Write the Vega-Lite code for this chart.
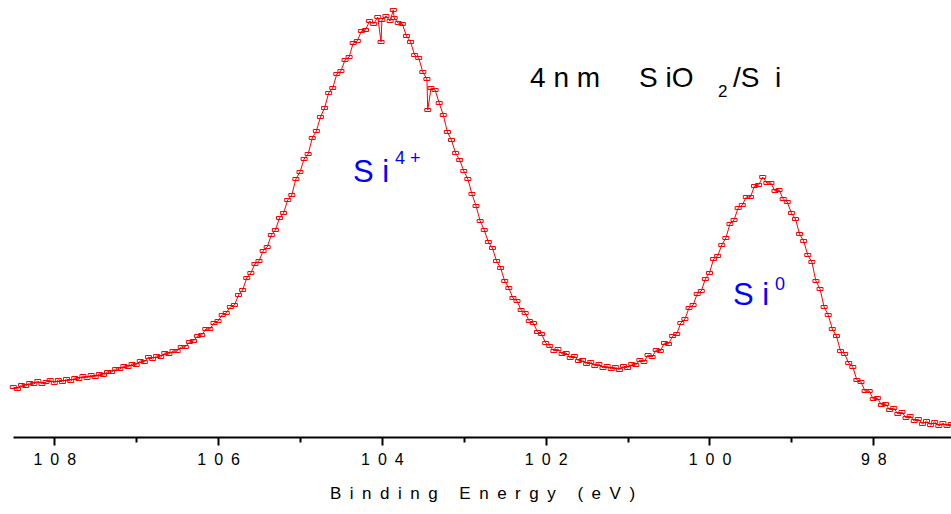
{
  "$schema": "https://vega.github.io/schema/vega-lite/v6.json",
  "width": 938,
  "height": 437,
  "autosize": {"type": "none"},
  "padding": {"left": 13, "top": 0, "right": 0, "bottom": 77},
  "background": "white",
  "config": {"view": {"stroke": null}, "font": "Liberation Sans"},
  "datasets": {
    "spectrum": [
      {"E":108.50,"h":50},{"E":108.45,"h":48},{"E":108.40,"h":52},{"E":108.35,"h":51},{"E":108.30,"h":54},{"E":108.25,"h":53},{"E":108.20,"h":56},{"E":108.15,"h":53},{"E":108.10,"h":55},{"E":108.05,"h":57},
      {"E":108.00,"h":54},{"E":107.95,"h":57},{"E":107.90,"h":55},{"E":107.85,"h":58},{"E":107.80,"h":56},{"E":107.75,"h":59},{"E":107.70,"h":58},{"E":107.65,"h":61},{"E":107.60,"h":59},{"E":107.55,"h":62},
      {"E":107.50,"h":60},{"E":107.45,"h":63},{"E":107.40,"h":62},{"E":107.35,"h":65},{"E":107.30,"h":65},{"E":107.25,"h":68},{"E":107.20,"h":68},{"E":107.15,"h":71},{"E":107.10,"h":70},{"E":107.05,"h":73},
      {"E":107.00,"h":72},{"E":106.95,"h":76},{"E":106.90,"h":75},{"E":106.85,"h":80},{"E":106.80,"h":78},{"E":106.75,"h":81},{"E":106.70,"h":80},{"E":106.65,"h":84},{"E":106.60,"h":83},{"E":106.55,"h":86},
      {"E":106.50,"h":86},{"E":106.45,"h":90},{"E":106.40,"h":90},{"E":106.35,"h":95},{"E":106.30,"h":96},{"E":106.25,"h":101},{"E":106.20,"h":102},{"E":106.15,"h":108},{"E":106.10,"h":108},{"E":106.05,"h":114},
      {"E":106.00,"h":116},{"E":105.95,"h":122},{"E":105.90,"h":124},{"E":105.85,"h":130},{"E":105.80,"h":132},{"E":105.75,"h":142},{"E":105.70,"h":147},{"E":105.65,"h":159},{"E":105.60,"h":164},{"E":105.55,"h":173},
      {"E":105.50,"h":176},{"E":105.45,"h":186},{"E":105.40,"h":190},{"E":105.35,"h":202},{"E":105.30,"h":207},{"E":105.25,"h":219},{"E":105.20,"h":224},{"E":105.15,"h":237},{"E":105.10,"h":242},{"E":105.05,"h":258},
      {"E":105.00,"h":265},{"E":104.95,"h":278},{"E":104.90,"h":283},{"E":104.85,"h":299},{"E":104.80,"h":306},{"E":104.75,"h":320},{"E":104.70,"h":329},{"E":104.65,"h":344},{"E":104.60,"h":349},{"E":104.55,"h":363},
      {"E":104.50,"h":366},{"E":104.45,"h":377},{"E":104.40,"h":380},{"E":104.35,"h":394},{"E":104.30,"h":396},{"E":104.25,"h":406},{"E":104.20,"h":407},{"E":104.15,"h":416},{"E":104.10,"h":413},{"E":104.05,"h":420},
      {"E":104.01,"h":395},{"E":104.00,"h":417},{"E":103.95,"h":421},{"E":103.90,"h":416},{"E":103.86,"h":427},{"E":103.85,"h":419},{"E":103.80,"h":414},{"E":103.75,"h":413},{"E":103.70,"h":401},{"E":103.65,"h":395},
      {"E":103.60,"h":382},{"E":103.55,"h":379},{"E":103.50,"h":365},{"E":103.45,"h":358},{"E":103.44,"h":327},{"E":103.40,"h":349},{"E":103.35,"h":347},{"E":103.30,"h":334},{"E":103.25,"h":322},{"E":103.20,"h":305},
      {"E":103.15,"h":297},{"E":103.10,"h":284},{"E":103.05,"h":277},{"E":103.00,"h":266},{"E":102.95,"h":258},{"E":102.90,"h":243},{"E":102.85,"h":231},{"E":102.80,"h":216},{"E":102.75,"h":207},{"E":102.70,"h":195},
      {"E":102.65,"h":189},{"E":102.60,"h":176},{"E":102.55,"h":169},{"E":102.50,"h":156},{"E":102.45,"h":149},{"E":102.40,"h":139},{"E":102.35,"h":136},{"E":102.30,"h":127},{"E":102.25,"h":124},{"E":102.20,"h":116},
      {"E":102.15,"h":114},{"E":102.10,"h":105},{"E":102.05,"h":103},{"E":102.00,"h":94},{"E":101.95,"h":91},{"E":101.90,"h":86},{"E":101.85,"h":88},{"E":101.80,"h":83},{"E":101.75,"h":84},{"E":101.70,"h":79},
      {"E":101.65,"h":81},{"E":101.60,"h":76},{"E":101.55,"h":77},{"E":101.50,"h":73},{"E":101.45,"h":75},{"E":101.40,"h":71},{"E":101.35,"h":73},{"E":101.30,"h":69},{"E":101.25,"h":71},{"E":101.20,"h":68},
      {"E":101.15,"h":70},{"E":101.10,"h":67},{"E":101.05,"h":71},{"E":101.00,"h":69},{"E":100.95,"h":73},{"E":100.90,"h":72},{"E":100.85,"h":77},{"E":100.80,"h":75},{"E":100.75,"h":82},{"E":100.70,"h":80},
      {"E":100.65,"h":87},{"E":100.60,"h":86},{"E":100.55,"h":94},{"E":100.50,"h":93},{"E":100.45,"h":101},{"E":100.40,"h":103},{"E":100.35,"h":114},{"E":100.30,"h":118},{"E":100.25,"h":129},{"E":100.20,"h":132},
      {"E":100.15,"h":143},{"E":100.10,"h":146},{"E":100.05,"h":158},{"E":100.00,"h":164},{"E":99.95,"h":178},{"E":99.90,"h":181},{"E":99.85,"h":192},{"E":99.80,"h":199},{"E":99.75,"h":213},{"E":99.70,"h":217},
      {"E":99.65,"h":229},{"E":99.60,"h":232},{"E":99.55,"h":240},{"E":99.50,"h":240},{"E":99.45,"h":251},{"E":99.40,"h":252},{"E":99.35,"h":260},{"E":99.30,"h":254},{"E":99.25,"h":254},{"E":99.20,"h":246},
      {"E":99.15,"h":247},{"E":99.10,"h":238},{"E":99.05,"h":235},{"E":99.00,"h":224},{"E":98.95,"h":218},{"E":98.90,"h":203},{"E":98.85,"h":196},{"E":98.80,"h":182},{"E":98.75,"h":175},{"E":98.70,"h":156},
      {"E":98.65,"h":148},{"E":98.60,"h":130},{"E":98.55,"h":122},{"E":98.50,"h":108},{"E":98.45,"h":101},{"E":98.40,"h":86},{"E":98.35,"h":83},{"E":98.30,"h":74},{"E":98.25,"h":70},{"E":98.20,"h":57},
      {"E":98.15,"h":55},{"E":98.10,"h":46},{"E":98.05,"h":46},{"E":98.00,"h":38},{"E":97.95,"h":39},{"E":97.90,"h":32},{"E":97.85,"h":33},{"E":97.80,"h":27},{"E":97.75,"h":29},{"E":97.70,"h":23},
      {"E":97.65,"h":25},{"E":97.60,"h":19},{"E":97.55,"h":21},{"E":97.50,"h":16},{"E":97.45,"h":18},{"E":97.40,"h":13},{"E":97.35,"h":16},{"E":97.30,"h":12},{"E":97.25,"h":15},{"E":97.20,"h":11},
      {"E":97.15,"h":14},{"E":97.10,"h":11},{"E":97.05,"h":13}
    ],
    "annot": [
      {"E":102.191,"h":350,"text":"4\u00a0n\u00a0m\u00a0\u00a0\u00a0\u00a0\u00a0S\u00a0iO","group":"big"},
      {"E":99.896,"h":340,"text":"2","group":"small"},
      {"E":99.713,"h":350,"text":"/S\u00a0\u00a0i","group":"big"},
      {"E":104.353,"h":255,"text":"S\u00a0i","group":"ionbig"},
      {"E":103.840,"h":273,"text":"4\u00a0+","group":"ionsmall"},
      {"E":99.713,"h":132,"text":"S\u00a0i","group":"ionbig"},
      {"E":99.200,"h":147,"text":"0","group":"ionsmall"}
    ]
  },
  "encoding": {
    "x": {
      "field": "E", "type": "quantitative",
      "scale": {"domain": [97.051, 108.504], "reverse": true, "nice": false, "zero": false},
      "axis": {
        "title": "B\u2002i\u2002n\u2002d\u2002i\u2002n\u2002g\u2002\u00a0\u2002E\u2002n\u2002e\u2002r\u2002g\u2002y\u2002\u00a0\u2002(\u2002e\u2002V\u2002)",
        "titleFont": "Liberation Sans", "titleFontSize": 17, "titleFontWeight": "normal", "titleColor": "black", "titlePadding": 18,
        "values": [98, 99, 100, 101, 102, 103, 104, 105, 106, 107, 108],
        "labelExpr": "datum.value % 2 === 0 ? join(split(toString(datum.value), ''), '\u2002') : ''",
        "labelFont": "Liberation Sans", "labelFontSize": 16, "labelColor": "black", "labelPadding": 6,
        "domainColor": "black", "domainWidth": 2,
        "tickColor": "black", "tickWidth": 2,
        "tickSize": {"condition": {"test": "datum.value % 2 === 0", "value": 8}, "value": 5},
        "grid": false, "labelFlush": false, "labelOverlap": false
      }
    },
    "y": {
      "field": "h", "type": "quantitative",
      "scale": {"domain": [0, 437], "nice": false, "zero": false},
      "axis": null
    }
  },
  "layer": [
    {
      "data": {"name": "spectrum"},
      "mark": {"type": "line", "color": "#ff0000", "strokeWidth": 1},
      "encoding": {}
    },
    {
      "data": {"name": "spectrum"},
      "mark": {"type": "point", "shape": "M-1,-0.5H1V0.5H-1Z", "size": 36, "filled": false, "stroke": "#ff0000", "strokeWidth": 1, "opacity": 1},
      "encoding": {}
    },
    {
      "data": {"name": "annot"},
      "transform": [{"filter": "datum.group === 'big'"}],
      "mark": {"type": "text", "align": "left", "baseline": "alphabetic", "fontSize": 28, "font": "Liberation Sans", "color": "black"},
      "encoding": {"text": {"field": "text"}}
    },
    {
      "data": {"name": "annot"},
      "transform": [{"filter": "datum.group === 'small'"}],
      "mark": {"type": "text", "align": "left", "baseline": "alphabetic", "fontSize": 17, "font": "Liberation Sans", "color": "black"},
      "encoding": {"text": {"field": "text"}}
    },
    {
      "data": {"name": "annot"},
      "transform": [{"filter": "datum.group === 'ionbig'"}],
      "mark": {"type": "text", "align": "left", "baseline": "alphabetic", "fontSize": 31, "font": "Liberation Sans", "color": "#0000ff"},
      "encoding": {"text": {"field": "text"}}
    },
    {
      "data": {"name": "annot"},
      "transform": [{"filter": "datum.group === 'ionsmall'"}],
      "mark": {"type": "text", "align": "left", "baseline": "alphabetic", "fontSize": 18, "font": "Liberation Sans", "color": "#0000ff"},
      "encoding": {"text": {"field": "text"}}
    }
  ]
}
